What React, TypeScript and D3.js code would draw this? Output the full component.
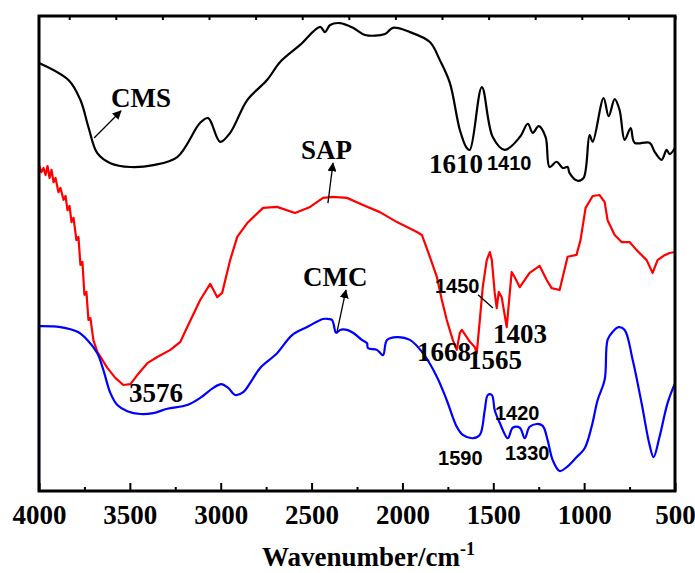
import React, { useRef, useEffect } from 'react';
import * as d3 from 'd3';

// FTIR spectra, transmittance in arbitrary units (0..100 across the frame)
const cmsWn = [4000, 3838, 3772, 3728, 3679, 3607, 3497, 3371, 3239, 3113, 3069, 3003, 2948, 2854, 2745, 2673, 2563, 2453, 2426, 2398, 2343, 2272, 2206, 2096, 2052, 1959, 1849, 1794, 1739, 1684, 1646, 1629, 1563, 1503, 1437, 1354, 1310, 1283, 1250, 1212, 1190, 1151, 1118, 1091, 1080, 1036, 1003, 970, 953, 893, 865, 832, 805, 777, 744, 722, 640, 612, 574, 546, 530, 500];
const cmsT = [89.9, 86.3, 82.1, 76.4, 70.9, 68.8, 68.0, 68.4, 70.1, 77.3, 78.3, 73.3, 75.2, 82.1, 86.3, 90.1, 93.7, 97.5, 96.4, 97.9, 98.3, 97.3, 95.8, 96.0, 97.3, 96.4, 94.3, 90.5, 85.7, 75.8, 72.0, 71.6, 84.8, 74.3, 71.6, 74.3, 77.1, 75.2, 76.6, 74.3, 68.0, 69.1, 67.8, 68.0, 66.7, 65.1, 65.7, 74.7, 73.3, 82.5, 78.7, 82.3, 80.0, 73.7, 76.2, 73.1, 73.1, 71.2, 69.5, 71.6, 70.7, 72.0];

const sapWn = [4000, 3987, 3975, 3964, 3953, 3942, 3931, 3920, 3909, 3893, 3882, 3865, 3854, 3843, 3832, 3821, 3810, 3794, 3783, 3772, 3761, 3750, 3739, 3728, 3717, 3701, 3679, 3624, 3580, 3536, 3497, 3459, 3404, 3349, 3277, 3222, 3184, 3113, 3058, 3019, 2992, 2948, 2909, 2854, 2767, 2690, 2591, 2508, 2437, 2382, 2305, 2217, 2124, 2030, 1920, 1893, 1849, 1810, 1783, 1756, 1723, 1701, 1684, 1673, 1646, 1629, 1602, 1591, 1574, 1558, 1536, 1519, 1508, 1492, 1481, 1470, 1454, 1426, 1399, 1382, 1354, 1300, 1245, 1206, 1179, 1135, 1091, 1042, 1020, 992, 953, 915, 887, 871, 832, 794, 750, 711, 656, 623, 596, 563, 530, 500];
const sapT = [68.4, 66.9, 67.8, 66.3, 68.2, 65.7, 67.4, 64.8, 65.7, 62.7, 63.6, 61.1, 61.9, 58.9, 59.8, 56.4, 57.3, 52.6, 53.3, 47.4, 48.0, 41.1, 41.7, 35.8, 36.2, 31.6, 29.1, 25.7, 23.6, 22.1, 22.3, 24.2, 26.7, 28.0, 29.5, 31.2, 34.3, 40.0, 43.4, 40.6, 41.5, 48.4, 53.3, 56.2, 59.4, 59.6, 58.3, 59.6, 61.5, 61.7, 61.5, 60.0, 58.5, 56.4, 54.3, 53.7, 49.1, 44.8, 40.0, 35.8, 31.6, 29.5, 33.1, 33.7, 32.2, 31.2, 30.1, 28.8, 35.8, 42.7, 48.4, 50.1, 48.4, 41.5, 38.3, 41.7, 40.6, 34.3, 45.9, 44.8, 42.7, 45.7, 47.2, 44.2, 42.5, 42.1, 49.1, 49.5, 52.6, 59.4, 61.9, 62.1, 60.6, 56.8, 53.7, 52.2, 52.2, 50.5, 48.4, 45.7, 48.4, 49.3, 49.9, 50.1];

const cmcWn = [4000, 4000, 3882, 3788, 3734, 3679, 3646, 3607, 3569, 3514, 3442, 3371, 3294, 3184, 3113, 3041, 2997, 2959, 2920, 2876, 2827, 2783, 2690, 2607, 2525, 2437, 2409, 2387, 2365, 2343, 2305, 2272, 2223, 2195, 2190, 2140, 2107, 2085, 2030, 1959, 1887, 1810, 1756, 1701, 1668, 1613, 1574, 1547, 1530, 1508, 1492, 1464, 1420, 1393, 1354, 1327, 1300, 1261, 1228, 1201, 1173, 1135, 1096, 1042, 997, 959, 926, 887, 871, 843, 810, 777, 733, 684, 640, 618, 585, 541, 500];
const cmcT = [0, 34.5, 34.3, 33.3, 31.6, 28.8, 25.3, 20.4, 17.9, 16.6, 16.0, 16.2, 17.1, 17.9, 19.4, 21.5, 22.3, 21.5, 20.0, 20.6, 23.2, 25.7, 28.8, 32.6, 34.3, 36.0, 36.0, 35.8, 33.1, 33.7, 33.7, 33.1, 31.6, 30.9, 29.9, 29.5, 28.4, 31.6, 32.2, 31.6, 28.8, 23.8, 18.9, 13.3, 11.6, 10.9, 11.6, 16.8, 20.0, 20.0, 16.8, 14.1, 10.9, 13.1, 13.1, 10.9, 13.3, 13.9, 13.5, 10.5, 6.3, 4.0, 4.8, 6.9, 8.8, 13.3, 18.9, 23.2, 31.6, 33.3, 34.3, 33.7, 27.4, 18.3, 9.5, 6.9, 11.2, 18.3, 22.5];

const majorTicks = [4000, 3500, 3000, 2500, 2000, 1500, 1000, 500];
const minorTicks = [3750, 3250, 2750, 2250, 1750, 1250, 750];
const topTicks = [3750, 3500, 3250, 3000, 2750, 2500, 2250, 2000, 1750, 1500, 1250, 1000, 750, 500];

// peak labels: [text, wavenumber, T, font]
const labels: [string, number, number, string][] = [
  ['CMS', 3604, 80.6, 'serif'],
  ['SAP', 2558, 69.7, 'serif'],
  ['CMC', 2547, 42.9, 'serif'],
  ['1610', 1854, 66.7, 'serif'],
  ['1410', 1535, 67.4, 'sans'],
  ['1450', 1821, 41.5, 'sans'],
  ['1403', 1502, 30.9, 'serif'],
  ['1668', 1920, 27.2, 'serif'],
  ['1565', 1639, 25.5, 'serif'],
  ['3576', 3505, 18.5, 'serif'],
  ['1420', 1491, 14.7, 'sans'],
  ['1330', 1436, 6.3, 'sans'],
  ['1590', 1804, 5.3, 'sans'],
];

// arrows: [wn0, T0, wn1, T1, head]
const arrows: [number, number, number, number, boolean][] = [
  [3697, 74.1, 3549, 79.8, true],
  [2410, 60.4, 2382, 68.8, true],
  [2360, 33.3, 2311, 42.1, true],
  [1584, 41.1, 1502, 38.3, false],
];

const W = 695, H = 573;
const left = 39, right = 675, top = 15, bottom = 490;

export default function App() {
  const axisRef = useRef<SVGGElement>(null);

  const x = d3.scaleLinear().domain([4000, 500]).range([left, right]);
  const xTop = d3.scaleLinear().domain([4000, 500]).range([22.6, right]);
  const y = d3.scaleLinear().domain([0, 100]).range([bottom, top]);

  const line = d3.line<[number, number]>()
    .x(d => x(d[0]))
    .y(d => y(d[1]))
    .curve(d3.curveCatmullRom.alpha(0.5));
  const rough = d3.line<[number, number]>()
    .x(d => x(d[0]))
    .y(d => y(d[1]));

  const zip = (a: number[], b: number[]) => a.map((v, i) => [v, b[i]] as [number, number]);

  // blue starts with a vertical rise at 4000, keep that part straight
  const cmc = zip(cmcWn, cmcT);
  const cmcPath = `M${x(cmc[0][0])},${y(cmc[0][1])}L` + (line(cmc.slice(1)) || '').slice(1);

  useEffect(() => {
    const g = d3.select(axisRef.current);
    g.selectAll('*').remove();

    const major = g.append('g').attr('transform', `translate(0,${bottom + 1})`)
      .call(d3.axisBottom(x).tickValues(majorTicks).tickSize(-8).tickPadding(14).tickFormat(d3.format('d')));
    const minor = g.append('g').attr('transform', `translate(0,${bottom + 1})`)
      .call(d3.axisBottom(x).tickValues(minorTicks).tickSize(-4).tickFormat(() => ''));
    const topAx = g.append('g').attr('transform', `translate(0,${top + 1})`)
      .call(d3.axisTop(xTop).tickValues(topTicks).tickSize(-4).tickFormat(() => ''));

    [major, minor, topAx].forEach(a => {
      a.select('.domain').remove();
      a.selectAll('line').attr('stroke', '#000').attr('stroke-width', 2);
    });
    major.selectAll('text')
      .attr('fill', '#000')
      .style('font-family', '"Liberation Serif", "Times New Roman", serif')
      .style('font-weight', 'bold')
      .style('font-size', '27px');
  }, []);

  return (
    <svg width={W} height={H} style={{ position: 'absolute', left: 0, top: 0, background: '#fff' }}>
      <defs>
        <marker id="head" viewBox="0 0 10 10" refX="9" refY="5" markerWidth="9" markerHeight="9"
          markerUnits="userSpaceOnUse" orient="auto">
          <path d="M0,0 L10,5 L0,10 z" fill="#000" />
        </marker>
      </defs>

      <path d={line(zip(cmsWn, cmsT)) || ''} fill="none" stroke="#000" strokeWidth={2.2} />
      <path d={rough(zip(sapWn, sapT)) || ''} fill="none" stroke="#ff0000" strokeWidth={2.2} strokeLinejoin="round" />
      <path d={cmcPath} fill="none" stroke="#0000ff" strokeWidth={2.2} />

      <rect x={left} y={top + 1} width={right - left} height={bottom - top} fill="none" stroke="#000" strokeWidth={3} />

      <g ref={axisRef} />

      {arrows.map((a, i) => (
        <line key={i} x1={x(a[0])} y1={y(a[1])} x2={x(a[2])} y2={y(a[3])}
          stroke="#000" strokeWidth={1.3} markerEnd={a[4] ? 'url(#head)' : undefined} />
      ))}

      {labels.map(([t, wn, v, f]) => (
        <text key={t} x={x(wn)} y={y(v)}
          fontFamily={f === 'serif' ? '"Liberation Serif", "Times New Roman", serif' : '"Liberation Sans", Arial, sans-serif'}
          fontWeight="bold" fontSize={f === 'serif' ? 27 : 20} fill="#000">{t}</text>
      ))}

      <text x={262} y={566} fontFamily='"Liberation Serif", "Times New Roman", serif' fontWeight="bold" fontSize={27} fill="#000">
        Wavenumber/cm<tspan fontSize={18} dy={-11}>-1</tspan>
      </text>
    </svg>
  );
}
